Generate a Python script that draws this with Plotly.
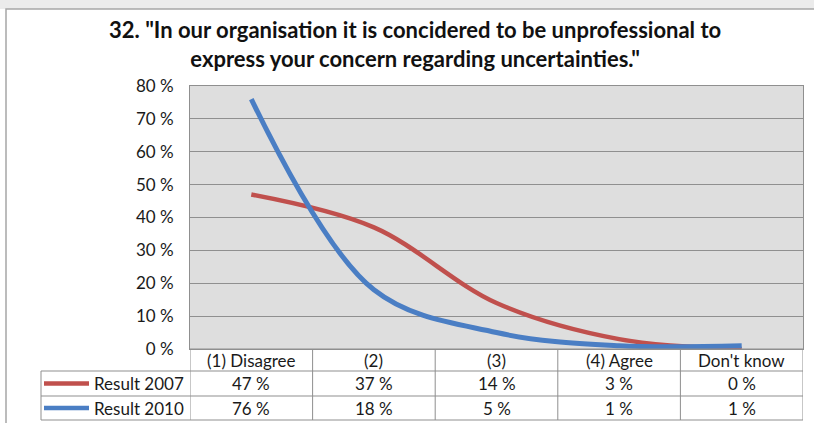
import plotly.graph_objects as go

categories = ["(1) Disagree", "(2)", "(3)", "(4) Agree", "Don't know"]
series_names = ["Result 2007", "Result 2010"]
result_2007 = [47, 37, 14, 3, 0]
result_2010 = [76, 18, 5, 1, 1]
y_ticks = [0, 10, 20, 30, 40, 50, 60, 70, 80]

title = ('32. "In our organisation it is concidered to be unprofessional to<br>'
         'express your concern regarding uncertainties."')

RED = "#C0504D"
BLUE = "#4A7EC4"
GRID = "#8f8f8f"
FONT = "Lato, Carlito, Calibri, sans-serif"
TXT = "#1a1a1a"

# plot area in pixels
L, R, T, B = 190, 803, 86, 349
W, H = R - L, B - T


def px(x):
    return (x - L) / W


def py(y):
    return (B - y) / H


fig = go.Figure()
for name, vals, color, width in [
    (series_names[0], result_2007, RED, 4.5),
    (series_names[1], result_2010, BLUE, 5),
]:
    fig.add_trace(go.Scatter(
        x=list(range(len(categories))), y=vals, mode="lines", name=name,
        line=dict(color=color, width=width, shape="spline", smoothing=1),
        showlegend=False,
    ))

shapes = []
line_style = dict(color=GRID, width=1)
# window chrome strip + chart frame
shapes.append(dict(type="rect", xref="paper", yref="paper", x0=px(-5), x1=px(820),
                   y0=py(-5), y1=py(9), fillcolor="#ebebeb", line=dict(width=0), layer="below"))
shapes.append(dict(type="rect", xref="paper", yref="paper", x0=px(6), x1=px(830),
                   y0=py(9), y1=py(440), line=dict(color="#a6a6a6", width=1.5)))

# data table grid
rows_y = [349, 371, 396, 420]
row_mid = [(rows_y[i] + rows_y[i + 1]) / 2 for i in range(3)]
n = len(categories)
shapes.append(dict(type="line", xref="paper", yref="paper", x0=px(L), x1=px(R),
                   y0=py(rows_y[0]), y1=py(rows_y[0]), line=line_style))
for yy in rows_y[1:]:
    shapes.append(dict(type="line", xref="paper", yref="paper", x0=px(41), x1=px(R),
                       y0=py(yy), y1=py(yy), line=line_style))
shapes.append(dict(type="line", xref="paper", yref="paper", x0=px(41), x1=px(41),
                   y0=py(rows_y[1]), y1=py(rows_y[3]), line=line_style))
for i in range(n + 1):
    shapes.append(dict(type="line", xref="x", yref="paper", x0=i - 0.5, x1=i - 0.5,
                       y0=py(rows_y[0]), y1=py(rows_y[3]), line=line_style))

# legend keys inside the table
for k, color in enumerate([RED, BLUE]):
    shapes.append(dict(type="line", xref="paper", yref="paper", x0=px(44), x1=px(89),
                       y0=py(row_mid[k + 1]), y1=py(row_mid[k + 1]),
                       line=dict(color=color, width=4.5)))

cell_font = dict(size=17, color=TXT)
annotations = []
for i, cat in enumerate(categories):
    annotations.append(dict(x=i, y=py(row_mid[0]), xref="x", yref="paper", text=cat,
                            yanchor="middle", showarrow=False, font=cell_font))
for k, vals in enumerate([result_2007, result_2010]):
    annotations.append(dict(x=px(186), y=py(row_mid[k + 1]), xref="paper", yref="paper",
                            text=series_names[k], xanchor="right", yanchor="middle",
                            showarrow=False, font=cell_font))
    for i, v in enumerate(vals):
        annotations.append(dict(x=i, y=py(row_mid[k + 1]), xref="x", yref="paper",
                                text=f"{v} %", yanchor="middle", showarrow=False,
                                font=cell_font))

fig.update_layout(
    width=814, height=423,
    margin=dict(l=L, r=814 - R, t=T, b=423 - B),
    paper_bgcolor="white", plot_bgcolor="#dedede",
    font=dict(family=FONT, size=16, color=TXT),
    title=dict(text=title, x=0.51, xanchor="center", y=1 - 38 / 423, yanchor="top",
               font=dict(family=FONT, size=22, color="#111", weight="bold")),
    shapes=shapes, annotations=annotations,
)
fig.update_xaxes(range=[-0.5, n - 0.5], showticklabels=False, showgrid=False,
                 zeroline=False, showline=True, linecolor=GRID, mirror=True)
fig.update_yaxes(range=[0, 80], tickvals=y_ticks, ticktext=[f"{v} %" for v in y_ticks],
                 showgrid=True, gridcolor=GRID, gridwidth=1, zeroline=False,
                 showline=True, linecolor=GRID, mirror=True, ticks="",
                 ticklabelstandoff=12, tickfont=dict(size=17, color=TXT))

fig.write_html("out.html", config={"displayModeBar": False},
               post_script="document.body.style.margin='0';")
